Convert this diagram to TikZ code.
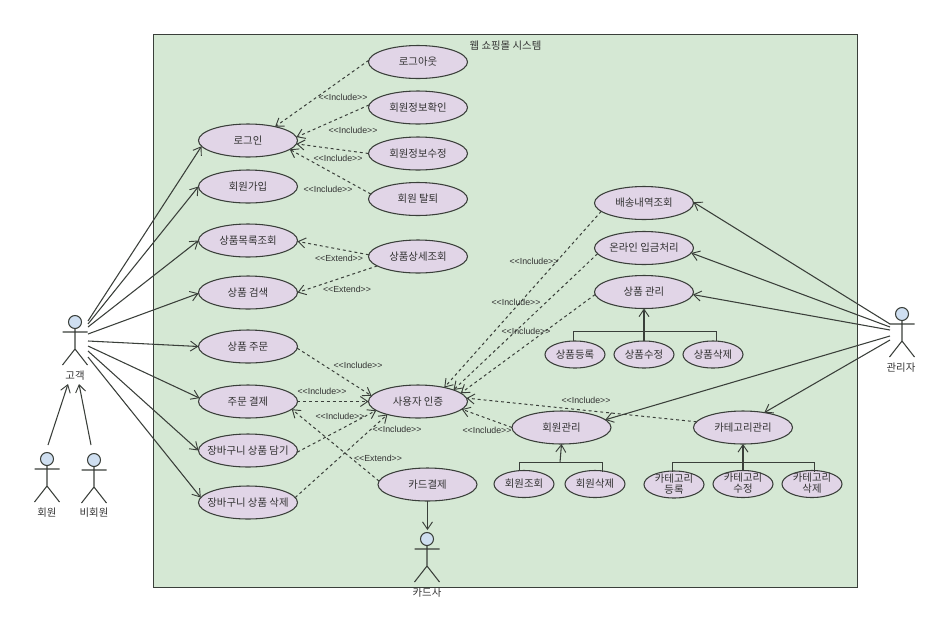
\documentclass[tikz,border=0pt]{standalone}
\usepackage{fontspec}
\setmainfont{Noto Sans CJK KR}
\newfontfamily\latfont{Liberation Sans}
\usetikzlibrary{arrows.meta,shapes.geometric,calc}
\definecolor{sysfill}{HTML}{D5E8D4}
\definecolor{ucfill}{HTML}{E1D5E7}
\definecolor{headfill}{HTML}{CFDFF1}
\definecolor{inkc}{HTML}{3A3F3A}
\definecolor{txtc}{HTML}{333333}
\newcommand{\kt}[1]{\makebox[0pt][c]{#1}}
\newcommand{\umlactor}[3]{%
  \node[actorbox] (#1) at (#2,#3+18.25) {};
  \begin{scope}[shift={(#2,#3)}]
    \draw[actorline,fill=headfill] (0,0) circle [radius=6.5];
    \draw[actorline] (0,6.5) -- (0,27) (-12.5,10) -- (12.5,10) (-12.5,43) -- (0,27) -- (12.5,43);
  \end{scope}}
\tikzset{
  uc/.style={ellipse,draw=inkc,fill=ucfill,line width=0.8pt,inner sep=0pt,outer sep=0pt,
    minimum width=74.25pt,minimum height=24.75pt,text=txtc,
    font=\fontsize{7.8pt}{8.25pt}\selectfont},
  ucsmall/.style={uc,minimum width=45pt,minimum height=20.25pt},
  txt/.style={inner sep=0pt,text=txtc,font=\fontsize{7.8pt}{8.25pt}\selectfont},
  lbl/.style={inner sep=0pt,text=txtc,font=\latfont\fontsize{6.6pt}{8pt}\selectfont},
  actorbox/.style={rectangle,draw=none,inner sep=0pt,outer sep=0pt,minimum width=18.75pt,minimum height=37.1pt},
  actorline/.style={draw=inkc,line width=0.8pt},
  assoc/.style={draw=inkc,line width=0.8pt,-{Straight Barb[length=5.5pt,width=7.5pt,line width=0.7pt]}},
  dep/.style={draw=inkc,line width=0.75pt,dash pattern=on 2.2pt off 2.2pt,-{Straight Barb[length=5.5pt,width=7.5pt,line width=0.7pt]}},
  treeline/.style={draw=inkc,line width=0.75pt},
}
\begin{document}
\begin{tikzpicture}[x=0.75pt,y=-0.75pt]
\useasboundingbox (0,0) rectangle (950,633);
\node[rectangle,draw=inkc,fill=sysfill,line width=0.8pt,minimum width=528pt,minimum height=414.4pt,inner sep=0pt,outer sep=0pt,anchor=north west] (sys) at (153.5,34.5) {};
\node[txt] (systitle) at (505.5,46) {웹 쇼핑몰 시스템};

% use cases
\node[uc] (logout) at (418,62) {\kt{로그아웃}};
\node[uc] (minfo) at (418,107.5) {\kt{회원정보확인}};
\node[uc] (medit) at (418,153.5) {\kt{회원정보수정}};
\node[uc] (mquit) at (418,199) {\kt{회원 탈퇴}};
\node[uc] (login) at (248,140.5) {\kt{로그인}};
\node[uc] (join) at (248,186.5) {\kt{회원가입}};
\node[uc] (plist) at (248,240.5) {\kt{상품목록조회}};
\node[uc] (psearch) at (248,292.5) {\kt{상품 검색}};
\node[uc] (pdetail) at (418,256.5) {\kt{상품상세조회}};
\node[uc] (porder) at (248,346.5) {\kt{상품 주문}};
\node[uc] (opay) at (248,401.5) {\kt{주문 결제}};
\node[uc] (cadd) at (248,450.5) {\kt{장바구니 상품 담기}};
\node[uc] (cdel) at (248,502.5) {\kt{장바구니 상품 삭제}};
\node[uc] (auth) at (418,401.5) {\kt{사용자 인증}};
\node[uc] (card) at (427.5,484.5) {\kt{카드결제}};
\node[uc] (ship) at (644,203) {\kt{배송내역조회}};
\node[uc] (bank) at (644,248) {\kt{온라인 입금처리}};
\node[uc] (pman) at (644,292) {\kt{상품 관리}};
\node[ucsmall] (preg) at (575,354.5) {\kt{상품등록}};
\node[ucsmall] (pmod) at (644,354.5) {\kt{상품수정}};
\node[ucsmall] (prem) at (713,354.5) {\kt{상품삭제}};
\node[uc] (mman) at (561.5,427.5) {\kt{회원관리}};
\node[uc] (cman) at (743,427.5) {\kt{카테고리관리}};
\node[ucsmall] (mview) at (524,484) {\kt{회원조회}};
\node[ucsmall] (mrem) at (595,484) {\kt{회원삭제}};
\node[ucsmall] (creg) at (674,484.5) {};
\node[ucsmall] (cmod) at (743,484) {};
\node[ucsmall] (crem) at (812,484) {};
\node[txt,align=center] (cregt) at (674,484) {카테고리\\등록};
\node[txt,align=center] (cmodt) at (743,483.5) {카테고리\\수정};
\node[txt,align=center] (cremt) at (812,483.5) {카테고리\\삭제};

% actors
\umlactor{customer}{75}{322}
\umlactor{member}{47}{459}
\umlactor{guest}{94}{460}
\umlactor{admin}{902}{314}
\umlactor{cardco}{427}{539}
\node[txt] (customert) at (75,376) {고객};
\node[txt] (membert) at (47,513) {회원};
\node[txt] (guestt) at (94,513) {비회원};
\node[txt] (admint) at (901,368) {관리자};
\node[txt] (cardcot) at (427,593) {카드사};

% free ends
\coordinate (c1) at (88,321);
\coordinate (c2) at (88,324);
\coordinate (c3) at (88,327);
\coordinate (c4) at (88,334);
\coordinate (c5) at (88,341);
\coordinate (c6) at (88,346);
\coordinate (c7) at (88,351);
\coordinate (c8) at (88,357);
\coordinate (a1) at (890,324);
\coordinate (a2) at (890,327);
\coordinate (a3) at (890,330);
\coordinate (a4) at (890,336);
\coordinate (a5) at (890,340);
\coordinate (gen1) at (68,384);
\coordinate (gen2) at (79,384);
\coordinate (mtop) at (48,445);
\coordinate (gtop) at (91,445);
\coordinate (cotop) at (427.5,530);

% customer associations
\draw[assoc] (c1) -- (login.187);
\draw[assoc] (c2) -- (join.180);
\draw[assoc] (c3) -- (plist.180);
\draw[assoc] (c4) -- (psearch.181);
\draw[assoc] (c5) -- (porder.180);
\draw[assoc] (c6) -- (opay.176);
\draw[assoc] (c7) -- (cadd.180);
\draw[assoc] (c8) -- (cdel.174);
\draw[assoc] (mtop) -- (gen1);
\draw[assoc] (gtop) -- (gen2);
\draw[assoc] (card) -- (cotop);

% admin associations
\draw[assoc] (a1) -- (ship.1);
\draw[assoc] (a2) -- (bank.-6);
\draw[assoc] (a3) -- (pman.-3);
\draw[assoc] (a4) -- (mman.10);
\draw[assoc] (a5) -- (cman.35);

% dependencies
\draw[dep] (logout.178) -- (login.27);
\draw[dep] (minfo.177) -- (login.4);
\draw[dep] (medit.180) -- (login.-4);
\draw[dep] (mquit.174) -- (login.-12);
\draw[dep] (pdetail.178) -- (plist.-1);
\draw[dep] (pdetail.193) -- (psearch.0);
\draw[dep] (porder.-2) -- (auth.173);
\draw[dep] (opay.0) -- (auth.180);
\draw[dep] (cadd.358) -- (auth.192);
\draw[dep] (cdel.6.5) -- (auth.203);
\draw[dep] (card.176) -- (opay.-10);
\draw[dep] (ship.191) -- (auth.28);
\draw[dep] (bank.187) -- (auth.18);
\draw[dep] (pman.183) -- (auth.11);
\draw[dep] (cman.173) -- (auth.4);
\draw[dep] (mman.180) -- (auth.-10);

% trees
\coordinate (phub) at (644,331.5);
\coordinate (mhub) at (560,462.5);
\coordinate (chub) at (743,462.5);
\draw[assoc] (pmod.north) -- (pman.south);
\draw[treeline] (preg.98) |- (phub) -| (prem.77);
\draw[assoc] (mhub) -- (mman.south);
\draw[treeline] (mview.north) ++(-5,0) |- (mhub) -| ($(mrem.north)+(7,1)$);
\draw[assoc] (cmod.north) -- (cman.south);
\draw[treeline] ($(creg.north)+(-2,1)$) |- (chub) -| ($(crem.north)+(2,1)$);

% labels
\node[lbl] (l1) at (343,97) {<<Include>>};
\node[lbl] (l2) at (353,130) {<<Include>>};
\node[lbl] (l3) at (338,158) {<<Include>>};
\node[lbl] (l4) at (328,189) {<<Include>>};
\node[lbl] (l5) at (339,258) {<<Extend>>};
\node[lbl] (l6) at (347,289) {<<Extend>>};
\node[lbl] (l7) at (358,365) {<<Include>>};
\node[lbl] (l8) at (322,391) {<<Include>>};
\node[lbl] (l9) at (340,416) {<<Include>>};
\node[lbl] (l10) at (397,429) {<<Include>>};
\node[lbl] (l11) at (378,458) {<<Extend>>};
\node[lbl] (l12) at (534,261) {<<Include>>};
\node[lbl] (l13) at (516,302) {<<Include>>};
\node[lbl] (l14) at (526,331) {<<Include>>};
\node[lbl] (l15) at (586,400) {<<Include>>};
\node[lbl] (l16) at (487,430) {<<Include>>};
\end{tikzpicture}
\end{document}
